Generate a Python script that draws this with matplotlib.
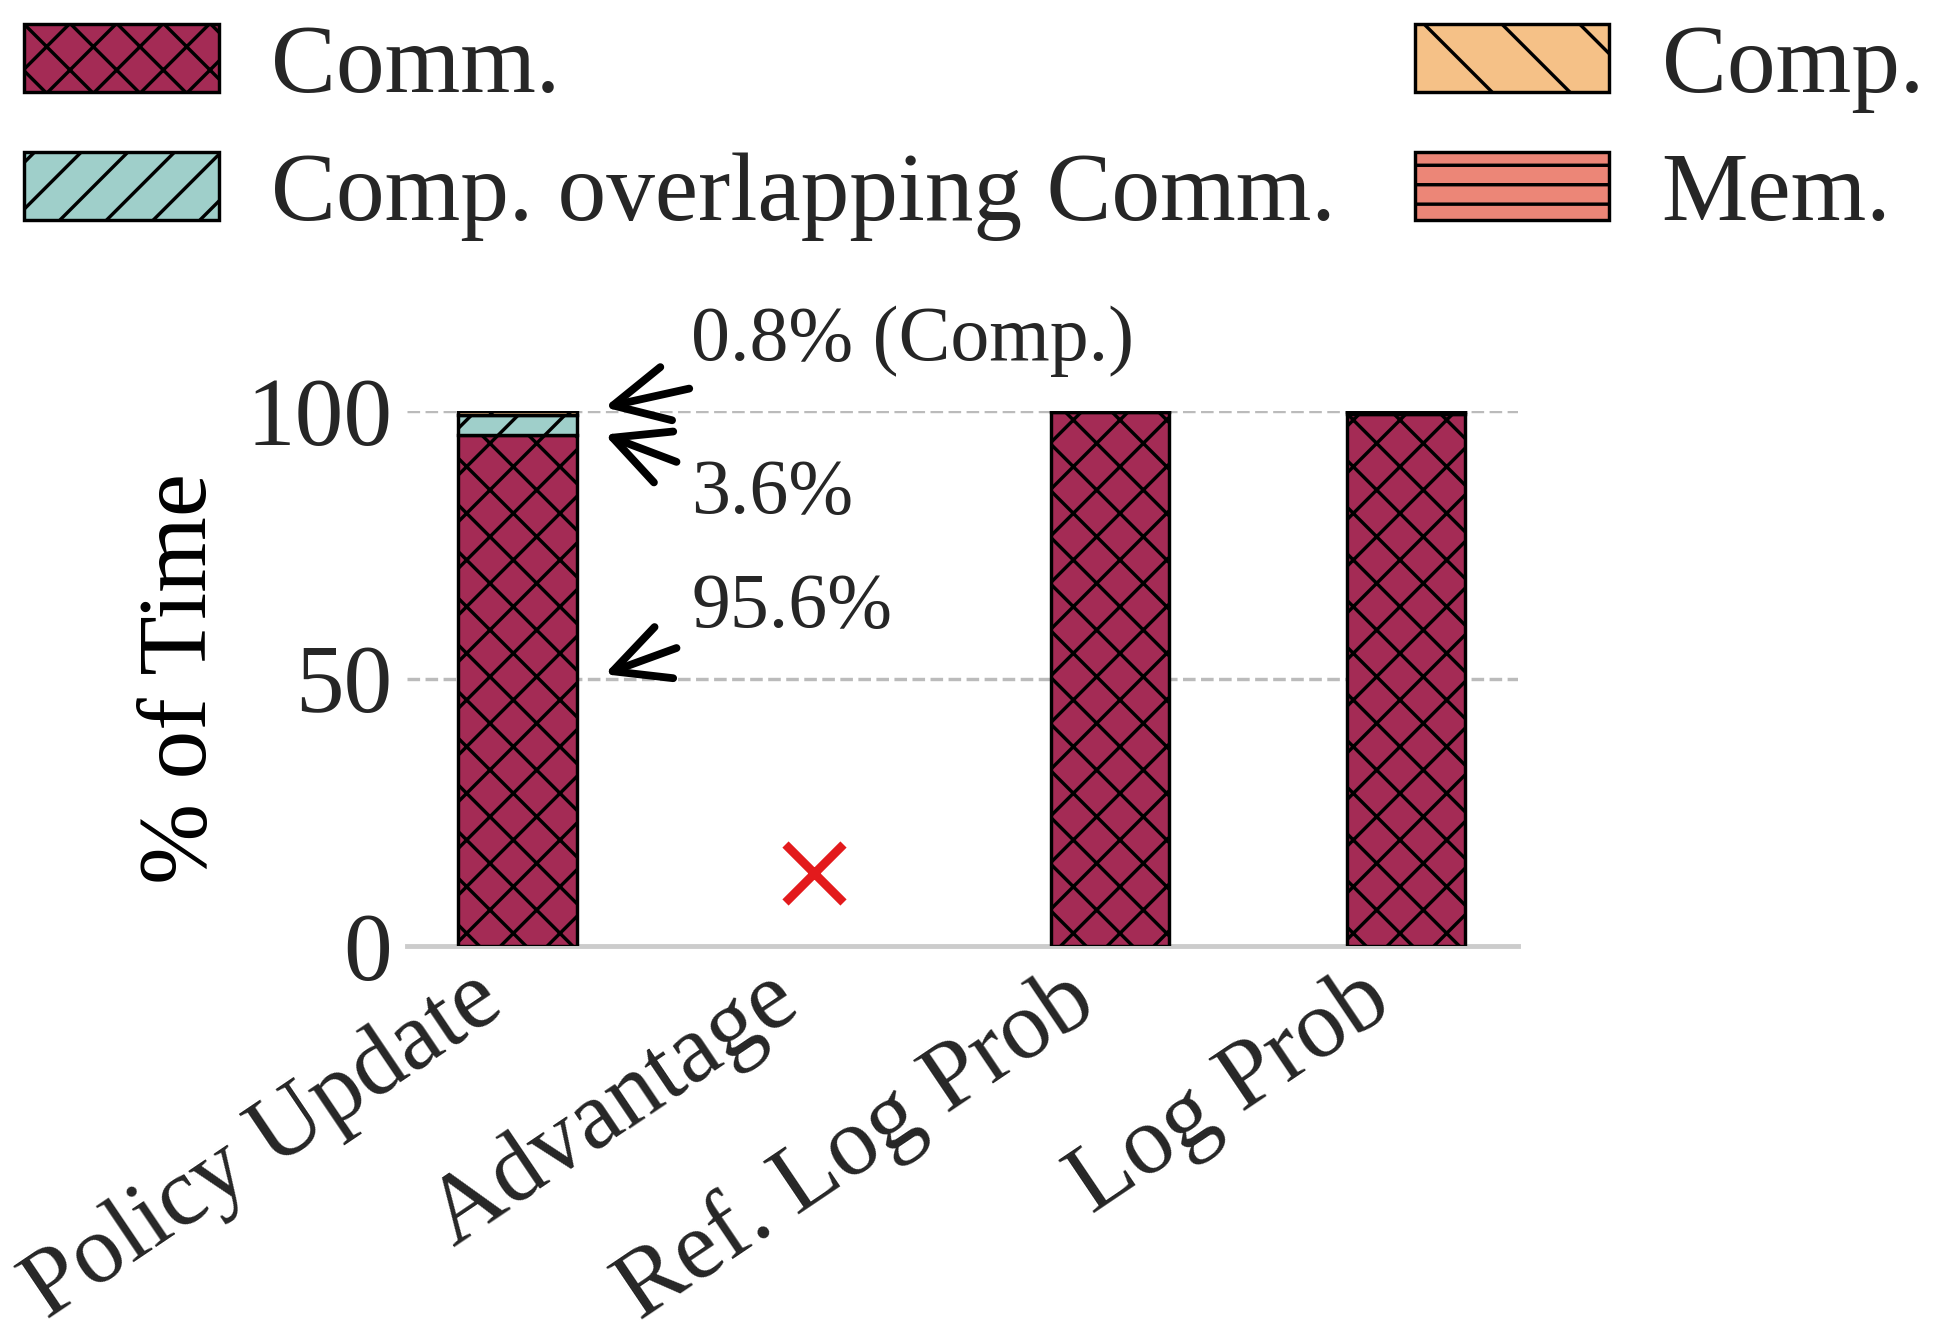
import numpy as np
import matplotlib.pyplot as plt
import matplotlib.transforms as mtransforms
from matplotlib.patches import Patch

plt.rcParams['font.family'] = ['Liberation Serif', 'DejaVu Serif']
plt.rcParams['hatch.linewidth'] = 0.35
plt.rcParams['text.color'] = '#262626'

stages = ['Policy Update', 'Advantage', 'Ref. Log Prob', 'Log Prob']
comm = [95.6, 0.0, 99.9, 99.5]
overlap = [3.6, 0.0, 0.0, 0.25]
comp = [0.8, 0.0, 0.1, 0.25]
mem = [0.0, 0.0, 0.0, 0.0]
missing_y = 13.7  # marker drawn where a stage has no data

series = [('Comm.', comm, '#a42b55', 'xxxxx'),
          ('Comp. overlapping Comm.', overlap, '#9fcfca', '/////'),
          ('Comp.', comp, '#f5c187', '\\\\\\'),
          ('Mem.', mem, '#ec8677', '------')]

fig = plt.figure(figsize=(1946 / 700, 1326 / 700), dpi=700)
ax = fig.add_axes([0.209, 0.2866, 0.571, 0.4034])

x = np.arange(len(stages))
bottom = np.zeros(len(stages))
handles = []
for label, vals, color, hatch in series:
    vals = np.array(vals)
    keep = vals > 0
    ax.bar(x[keep], vals[keep], 0.4, bottom=bottom[keep], color=color,
           hatch=hatch, edgecolor='black', linewidth=0.35, zorder=3)
    handles.append(Patch(facecolor=color, hatch=hatch, edgecolor='black',
                         linewidth=0.35, label=label))
    bottom += vals

ax.plot([1], [missing_y], marker='x', color='#e31a1c', markersize=6,
        markeredgewidth=0.9, linestyle='none', zorder=4)

ax.set_xlim(-0.374, 3.378)
ax.set_ylim(0, 100)
ax.set_yticks([0, 50, 100])
ax.set_xticks(x)
ax.set_xticklabels(stages, rotation=34, ha='right', va='center',
                   rotation_mode='anchor')
ax.tick_params(axis='both', length=0, labelsize=10, colors='#262626')
ax.tick_params(axis='x', pad=4.5)
ax.tick_params(axis='y', pad=1.5)
shift = mtransforms.ScaledTranslation(-24 / 700, -2 / 700, fig.dpi_scale_trans)
for lbl in ax.get_xticklabels():
    lbl.set_transform(lbl.get_transform() + shift)
ax.set_ylabel('% of Time', fontsize=10, labelpad=2)
for y in [50, 100]:
    ax.axhline(y, color='#bbbbbb', linestyle='--', linewidth=0.35, zorder=1)
for s in ['top', 'right', 'left']:
    ax.spines[s].set_visible(False)
ax.spines['bottom'].set_color('#cccccc')
ax.spines['bottom'].set_linewidth(0.5)

# annotations for the policy update bar
arrow = dict(arrowstyle='->', color='black', lw=0.8, mutation_scale=14,
             shrinkA=0, shrinkB=0)
ax.annotate('', xy=(0.294, 100.7), xytext=(0.58, 104.2), arrowprops=arrow,
            annotation_clip=False)
ax.annotate('', xy=(0.294, 95.6), xytext=(0.537, 90.5), arrowprops=arrow,
            annotation_clip=False)
ax.annotate('', xy=(0.294, 50.8), xytext=(0.537, 55.7), arrowprops=arrow,
            annotation_clip=False)
ax.text(0.587, 113, '0.8% (Comp.)', fontsize=8, va='center', clip_on=False)
ax.text(0.587, 84.5, '3.6%', fontsize=8, va='center')
ax.text(0.587, 63.1, '95.6%', fontsize=8, va='center')

fig.legend(handles=handles, loc='upper left', bbox_to_anchor=(0.0, 1.0),
           ncol=2, frameon=False, fontsize=10, handlelength=2.0,
           handleheight=0.7, handletextpad=0.54, columnspacing=0.81,
           labelspacing=0.4, borderpad=0.25, borderaxespad=0.0)

fig.savefig('out.png', dpi=700)
